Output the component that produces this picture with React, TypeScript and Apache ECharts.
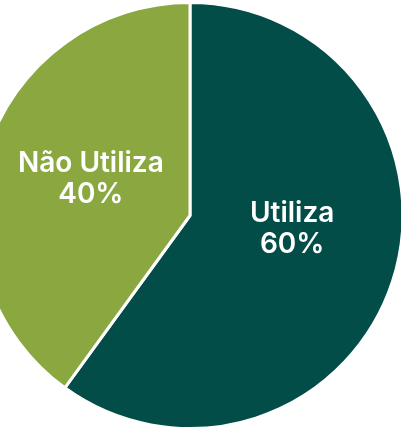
import React, { useEffect, useRef } from "react";
import * as echarts from "echarts";

const categories = ["Utiliza", "Não Utiliza"];
const values = [60, 40];
const colors = ["#024D47", "#8BA840"];
const labelOffsets = [[-2, -22], [5, -4]];

export default function App() {
  const ref = useRef<HTMLDivElement>(null);
  useEffect(() => {
    if (!ref.current) return;
    const chart = echarts.init(ref.current, null, { renderer: "svg" });
    chart.setOption({
      animation: false,
      series: [
        {
          type: "pie",
          center: [190, 215.5],
          radius: 213,
          startAngle: 90,
          clockwise: true,
          data: categories.map((name, i) => ({
            name,
            value: values[i],
            itemStyle: { color: colors[i] },
            label: { offset: labelOffsets[i] },
          })),
          itemStyle: { borderColor: "#ffffff", borderWidth: 3 },
          label: {
            show: true,
            position: "inside",
            formatter: (p: any) => `${p.name}\n${p.value}%`,
            color: "#ffffff",
            fontFamily: "Inter",
            fontWeight: 600,
            fontSize: 28,
            lineHeight: 31,
            align: "center",
          },
          labelLine: { show: false },
          emphasis: { disabled: true },
        },
      ],
    });
    return () => chart.dispose();
  }, []);
  return (
    <div
      ref={ref}
      style={{ position: "fixed", left: 0, top: 0, width: 401, height: 433 }}
    />
  );
}
